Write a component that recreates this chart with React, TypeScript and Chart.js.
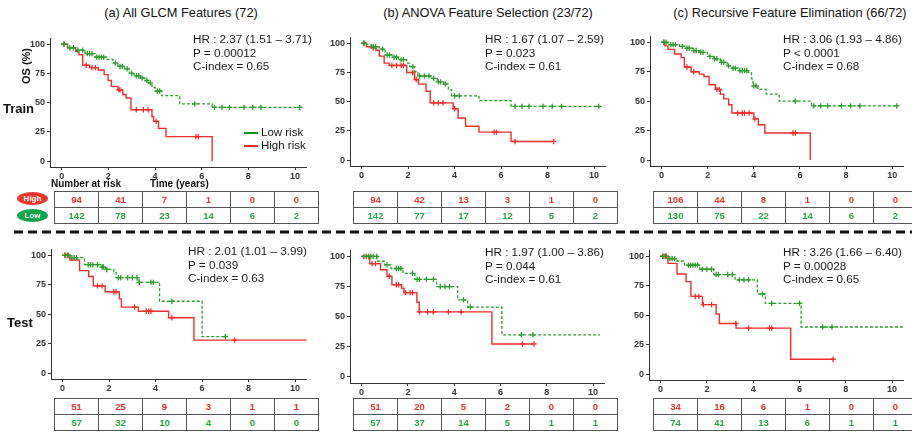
import React, { useEffect, useRef } from 'react';
import { Chart, registerables } from 'chart.js';
Chart.register(...registerables);

// ---------- axis ticks ----------
const X_TICKS = [0, 2, 4, 6, 8, 10];
const Y_TICKS = [0, 25, 50, 75, 100];

// ---------- titles & annotations ----------
const TITLES = [
  '(a) All GLCM Features (72)',
  '(b) ANOVA Feature Selection (23/72)',
  '(c) Recursive Feature Elimination (66/72)',
];
const ANNOT_A_TRAIN = ['HR : 2.37 (1.51 \u2013 3.71)', 'P = 0.00012', 'C-index = 0.65'];
const ANNOT_B_TRAIN = ['HR : 1.67 (1.07 \u2013 2.59)', 'P = 0.023', 'C-index = 0.61'];
const ANNOT_C_TRAIN = ['HR : 3.06 (1.93 \u2013 4.86)', 'P < 0.0001', 'C-index = 0.68'];
const ANNOT_A_TEST = ['HR : 2.01 (1.01 \u2013 3.99)', 'P = 0.039', 'C-index = 0.63'];
const ANNOT_B_TEST = ['HR : 1.97 (1.00 \u2013 3.86)', 'P = 0.044', 'C-index = 0.61'];
const ANNOT_C_TEST = ['HR : 3.26 (1.66 \u2013 6.40)', 'P = 0.00028', 'C-index = 0.65'];

// ---------- number at risk ----------
const RISK_A_TRAIN_HIGH = [94, 41, 7, 1, 0, 0];
const RISK_A_TRAIN_LOW = [142, 78, 23, 14, 6, 2];
const RISK_B_TRAIN_HIGH = [94, 42, 13, 3, 1, 0];
const RISK_B_TRAIN_LOW = [142, 77, 17, 12, 5, 2];
const RISK_C_TRAIN_HIGH = [106, 44, 8, 1, 0, 0];
const RISK_C_TRAIN_LOW = [130, 75, 22, 14, 6, 2];
const RISK_A_TEST_HIGH = [51, 25, 9, 3, 1, 1];
const RISK_A_TEST_LOW = [57, 32, 10, 4, 0, 0];
const RISK_B_TEST_HIGH = [51, 20, 5, 2, 0, 0];
const RISK_B_TEST_LOW = [57, 37, 14, 5, 1, 1];
const RISK_C_TEST_HIGH = [34, 16, 6, 1, 0, 0];
const RISK_C_TEST_LOW = [74, 41, 13, 6, 1, 1];

// ---------- KM curves (time in years, survival %) ----------
// (a) train
const A_TR_LOW_T = [0, 0.25, 0.6, 1.0, 1.43, 1.92, 2.2, 2.41, 2.69, 2.9, 3.1, 3.38, 3.59, 3.73, 3.87, 4.01, 4.29, 5.06, 6.45, 10.2];
const A_TR_LOW_S = [100, 97, 95, 92, 89, 87, 84, 81, 79, 75, 73, 71, 69, 67, 63, 60, 56, 49, 46, 46];
const A_TR_LOW_C = [0.1, 0.35, 0.5, 0.7, 0.9, 1.1, 1.2, 1.3, 1.5, 1.6, 1.7, 1.8, 2.3, 2.5, 2.6, 2.8, 3.0, 3.2, 3.3, 3.45, 3.65, 3.8, 4.1, 4.2, 5.7, 6.55, 6.87, 7.19, 7.81, 8.19, 8.54, 10.2];
const A_TR_HIGH_T = [0, 0.25, 0.6, 0.74, 0.9, 1.2, 1.57, 1.82, 1.99, 2.13, 2.41, 2.62, 2.76, 2.97, 3.87, 3.94, 4.15, 4.47, 6.45];
const A_TR_HIGH_S = [100, 97, 94, 91, 82, 80, 78, 74, 69, 64, 61, 57, 54, 44, 38, 34, 28, 21, 0];
const A_TR_HIGH_C = [0.1, 1.05, 1.3, 1.45, 2.45, 2.5, 3.2, 3.5, 3.7, 4.05, 5.75, 5.85];
// (b) train
const B_TR_LOW_T = [0, 0.21, 0.41, 0.76, 1.01, 1.31, 1.59, 1.94, 2.07, 2.28, 2.42, 2.97, 3.25, 3.53, 3.73, 3.87, 5.05, 6.43, 10.2];
const B_TR_LOW_S = [100, 99, 97, 95, 90, 88, 86, 83, 80, 76, 72, 70, 67, 65, 60, 55, 51, 46, 46];
const B_TR_LOW_C = [0.1, 0.5, 0.6, 0.9, 1.1, 1.2, 1.4, 1.5, 1.7, 1.8, 2.2, 2.5, 2.7, 2.9, 3.1, 3.3, 3.4, 3.6, 4.0, 4.2, 6.6, 6.9, 7.2, 7.8, 8.2, 8.6, 10.2];
const B_TR_HIGH_T = [0, 0.21, 0.41, 0.62, 0.76, 0.97, 1.18, 1.94, 2.28, 2.45, 2.77, 2.95, 3.94, 4.15, 4.47, 5.05, 6.43, 8.26];
const B_TR_HIGH_S = [100, 97, 96, 94, 89, 83, 81, 75, 69, 65, 59, 49, 44, 36, 29, 24, 16, 16];
const B_TR_HIGH_C = [0.1, 0.5, 1.3, 1.5, 1.7, 1.8, 2.2, 2.35, 3.1, 3.3, 3.5, 4.0, 5.7, 5.8, 6.6, 8.26];
// (c) train
const C_TR_LOW_T = [0, 0.28, 0.78, 1.06, 1.35, 1.63, 1.99, 2.27, 2.55, 2.84, 3.05, 3.33, 3.76, 3.9, 3.97, 4.18, 4.54, 5.1, 6.5, 10.2];
const C_TR_LOW_S = [100, 98, 96.5, 95, 93, 91.5, 88, 86, 83, 80, 78, 76, 74.5, 69, 63, 60, 56, 50, 46, 46];
const C_TR_LOW_C = [0.1, 0.2, 0.4, 0.5, 0.6, 0.9, 1.1, 1.2, 1.4, 1.5, 1.7, 1.8, 2.1, 2.3, 2.4, 2.6, 2.7, 2.9, 3.1, 3.2, 3.4, 3.5, 3.6, 3.7, 4.0, 4.1, 5.8, 6.6, 6.9, 7.2, 7.8, 8.2, 8.6, 10.2];
const C_TR_HIGH_T = [0, 0.14, 0.28, 0.57, 0.85, 0.99, 1.28, 1.63, 1.84, 2.06, 2.34, 2.55, 2.7, 2.91, 3.05, 4.0, 4.2, 4.48, 6.45];
const C_TR_HIGH_S = [100, 97, 94, 90, 87, 79, 75, 73, 71, 64, 60, 56, 52, 47, 40, 35, 30, 23, 0];
const C_TR_HIGH_C = [0.1, 1.1, 1.4, 2.4, 2.5, 3.3, 3.5, 3.6, 3.8, 4.05, 5.7, 5.8];
// (a) test
const A_TE_LOW_T = [0, 0.35, 0.94, 1.64, 1.85, 2.2, 2.3, 3.29, 4.17, 6.0, 7.0];
const A_TE_LOW_S = [100, 98, 92, 90, 88, 86, 81, 77, 61, 31, 31];
const A_TE_LOW_C = [0.1, 0.25, 0.4, 0.5, 0.6, 1.1, 1.2, 1.3, 1.5, 1.7, 1.75, 1.9, 2.4, 2.5, 2.8, 3.0, 3.2, 3.3, 3.8, 3.9, 4.7, 7.0];
const A_TE_HIGH_T = [0, 0.31, 0.73, 1.12, 1.32, 1.83, 2.44, 2.53, 3.26, 4.56, 5.65, 10.5];
const A_TE_HIGH_S = [100, 96, 87, 82, 74, 69, 63, 56, 52.5, 47, 28, 28];
const A_TE_HIGH_C = [0.1, 0.2, 1.5, 1.7, 2.2, 2.3, 3.1, 3.6, 3.7, 3.8, 4.7, 7.4];
// (b) test
const B_TE_LOW_T = [0, 0.7, 0.99, 1.27, 1.79, 2.3, 3.24, 4.15, 4.58, 6.06, 10.3];
const B_TE_LOW_S = [100, 96, 93, 90, 86, 81, 75, 64, 58, 35, 35];
const B_TE_LOW_C = [0.2, 0.3, 0.4, 0.5, 0.65, 1.1, 1.5, 1.6, 1.7, 2.2, 2.4, 2.5, 2.8, 3.1, 3.4, 3.6, 3.8, 4.4, 4.7, 6.9, 7.4];
const B_TE_HIGH_T = [0, 0.35, 0.82, 1.1, 1.31, 1.73, 1.83, 2.39, 2.49, 5.63, 7.45];
const B_TE_HIGH_S = [100, 94, 89, 83.5, 76.5, 73.6, 70, 62, 54, 27.4, 27.4];
const B_TE_HIGH_C = [0.1, 0.3, 0.45, 0.6, 1.2, 1.5, 1.6, 1.9, 2.1, 2.2, 2.5, 2.85, 3.1, 3.75, 4.3, 6.95, 7.45];
// (c) test
const C_TE_LOW_T = [0, 0.32, 0.71, 1.03, 1.69, 2.3, 3.22, 4.18, 4.53, 6.07, 10.5];
const C_TE_LOW_S = [100, 98, 96, 92.5, 89, 84.5, 80, 68, 60, 40, 40];
const C_TE_LOW_C = [0.1, 0.2, 0.4, 0.5, 0.6, 1.2, 1.3, 1.4, 1.5, 1.6, 1.8, 2.0, 2.2, 2.4, 2.5, 2.9, 3.1, 3.4, 3.6, 3.8, 4.4, 4.8, 6.0, 7.0, 7.4];
const C_TE_HIGH_T = [0, 0.32, 0.71, 1.1, 1.31, 1.81, 2.4, 2.54, 3.26, 5.62, 7.45];
const C_TE_HIGH_S = [100, 94, 85, 78.5, 66, 59, 51, 43, 39, 12.6, 12.6];
const C_TE_HIGH_C = [0.1, 0.2, 0.25, 1.5, 1.65, 1.85, 2.2, 3.25, 3.8, 4.7, 4.8, 7.45];

// ---------- styles ----------
const FONT = "'Liberation Sans', Arial, Helvetica, sans-serif";
const GREEN = '#2a9d2a';
const RED = '#ec2f2a';
const GREEN_TXT = '#22a844';
const RED_TXT = '#e8342c';
const AXIS = '#333333';
const YW = 30;
const XH = 18;

function survAt(t: number, T: number[], S: number[]) {
  let v = S[0];
  for (let i = 0; i < T.length; i++) if (T[i] <= t) v = S[i];
  return v;
}

type Area = { left: number; right: number; top: number; bottom: number };

function KMPanel(props: {
  area: Area;
  lowT: number[]; lowS: number[]; lowC: number[];
  highT: number[]; highS: number[]; highC: number[];
}) {
  const ref = useRef<HTMLCanvasElement | null>(null);
  const { area } = props;
  const w = area.right - area.left + YW;
  const h = area.bottom - area.top + XH;
  useEffect(() => {
    const { lowT, lowS, lowC, highT, highS, highC } = props;
    const lowLine = lowT.map((t, i) => ({ x: t, y: lowS[i] }));
    const highLine = highT.map((t, i) => ({ x: t, y: highS[i] }));
    const lowCens = lowC.map((t) => ({ x: t, y: survAt(t, lowT, lowS) }));
    const highCens = highC.map((t) => ({ x: t, y: survAt(t, highT, highS) }));
    const tickFont = { family: FONT, size: 9, weight: 'bold' as const };
    const chart = new Chart(ref.current as HTMLCanvasElement, {
      type: 'line',
      data: {
        datasets: [
          { data: lowLine, borderColor: GREEN, borderWidth: 1.3, borderDash: [3, 2], stepped: true, pointRadius: 0, fill: false },
          { data: lowCens, showLine: false, pointStyle: 'cross', pointRadius: 2.7, borderColor: GREEN, backgroundColor: GREEN, borderWidth: 1.3 },
          { data: highLine, borderColor: RED, borderWidth: 1.4, stepped: true, pointRadius: 0, fill: false },
          { data: highCens, showLine: false, pointStyle: 'cross', pointRadius: 2.7, borderColor: RED, backgroundColor: RED, borderWidth: 1.3 },
        ],
      } as any,
      options: {
        animation: false,
        responsive: false,
        events: [],
        layout: { padding: 0 },
        plugins: { legend: { display: false }, tooltip: { enabled: false } },
        scales: {
          x: {
            type: 'linear',
            min: -0.5,
            max: 10.5,
            afterBuildTicks: (s: any) => { s.ticks = X_TICKS.map((v) => ({ value: v })); },
            afterFit: (s: any) => { s.height = XH; },
            grid: { display: true, drawOnChartArea: false, drawTicks: true, tickLength: 3, color: AXIS, lineWidth: 1 },
            border: { display: true, color: AXIS, width: 1 },
            ticks: { font: tickFont, color: AXIS, padding: 1, maxRotation: 0, autoSkip: false },
          },
          y: {
            type: 'linear',
            min: -5,
            max: 105,
            afterBuildTicks: (s: any) => { s.ticks = Y_TICKS.map((v) => ({ value: v })); },
            afterFit: (s: any) => { s.width = YW; },
            grid: { display: true, drawOnChartArea: false, drawTicks: true, tickLength: 3, color: AXIS, lineWidth: 1 },
            border: { display: true, color: AXIS, width: 1 },
            ticks: { font: tickFont, color: AXIS, padding: 2, autoSkip: false },
          },
        },
      } as any,
    });
    return () => chart.destroy();
  }, []);
  return (
    <canvas
      ref={ref}
      width={w}
      height={h}
      style={{ position: 'absolute', left: area.left - YW, top: area.top, width: w, height: h }}
    />
  );
}

function Txt(props: { x: number; y: number; children: any; size: number; bold?: boolean; center?: boolean; color?: string; rotate?: boolean }) {
  const { x, y, size, bold, center, color, rotate } = props;
  let transform = center ? 'translate(-50%, -50%)' : 'translate(0, -50%)';
  if (rotate) transform = 'translate(-50%, -50%) rotate(-90deg)';
  return (
    <div
      style={{
        position: 'absolute', left: x, top: y, transform, whiteSpace: 'nowrap',
        fontFamily: FONT, fontSize: size, fontWeight: bold ? 700 : 400,
        color: color || '#111', lineHeight: 1,
      }}
    >
      {props.children}
    </div>
  );
}

function Annot(props: { x: number; y: number; lines: string[] }) {
  return (
    <>
      {props.lines.map((l, i) => (
        <Txt key={i} x={props.x} y={props.y + i * 13.5} size={11.7} color="#1a1a1a">{l}</Txt>
      ))}
    </>
  );
}

function RiskTable(props: { left: number; top: number; high: number[]; low: number[] }) {
  const cell = (v: number, color: string, k: number) => (
    <td key={k} style={{ border: '1px solid #555', height: 15, padding: 0, textAlign: 'center', color, fontWeight: 700, fontSize: 9.5, fontFamily: FONT, width: 43 }}>{v}</td>
  );
  return (
    <table style={{ position: 'absolute', left: props.left, top: props.top, width: 259, borderCollapse: 'collapse', tableLayout: 'fixed' }}>
      <tbody>
        <tr>{props.high.map((v, i) => cell(v, RED_TXT, i))}</tr>
        <tr>{props.low.map((v, i) => cell(v, GREEN_TXT, i))}</tr>
      </tbody>
    </table>
  );
}

function Pill(props: { top: number; color: string; label: string }) {
  return (
    <div style={{ position: 'absolute', left: 17, top: props.top, width: 31, height: 13, borderRadius: '50%', background: props.color, color: '#fff', fontFamily: FONT, fontSize: 8, fontWeight: 700, textAlign: 'center', lineHeight: '13px' }}>
      {props.label}
    </div>
  );
}

export default function App() {
  return (
    <div style={{ position: 'absolute', left: 0, top: 0, width: 912, height: 433, overflow: 'hidden', background: '#fff' }}>
      <Txt x={181} y={13} size={12.8} center>{TITLES[0]}</Txt>
      <Txt x={488} y={13} size={12.8} center>{TITLES[1]}</Txt>
      <Txt x={790} y={13} size={12.8} center>{TITLES[2]}</Txt>

      <KMPanel area={{ left: 50, right: 312, top: 31, bottom: 167 }} lowT={A_TR_LOW_T} lowS={A_TR_LOW_S} lowC={A_TR_LOW_C} highT={A_TR_HIGH_T} highS={A_TR_HIGH_S} highC={A_TR_HIGH_C} />
      <KMPanel area={{ left: 350, right: 611, top: 30, bottom: 166 }} lowT={B_TR_LOW_T} lowS={B_TR_LOW_S} lowC={B_TR_LOW_C} highT={B_TR_HIGH_T} highS={B_TR_HIGH_S} highC={B_TR_HIGH_C} />
      <KMPanel area={{ left: 650, right: 909, top: 29, bottom: 166 }} lowT={C_TR_LOW_T} lowS={C_TR_LOW_S} lowC={C_TR_LOW_C} highT={C_TR_HIGH_T} highS={C_TR_HIGH_S} highC={C_TR_HIGH_C} />
      <KMPanel area={{ left: 51, right: 312, top: 242, bottom: 379 }} lowT={A_TE_LOW_T} lowS={A_TE_LOW_S} lowC={A_TE_LOW_C} highT={A_TE_HIGH_T} highS={A_TE_HIGH_S} highC={A_TE_HIGH_C} />
      <KMPanel area={{ left: 350, right: 610, top: 243, bottom: 383 }} lowT={B_TE_LOW_T} lowS={B_TE_LOW_S} lowC={B_TE_LOW_C} highT={B_TE_HIGH_T} highS={B_TE_HIGH_S} highC={B_TE_HIGH_C} />
      <KMPanel area={{ left: 649, right: 909, top: 243, bottom: 380 }} lowT={C_TE_LOW_T} lowS={C_TE_LOW_S} lowC={C_TE_LOW_C} highT={C_TE_HIGH_T} highS={C_TE_HIGH_S} highC={C_TE_HIGH_C} />

      <Annot x={193} y={39} lines={ANNOT_A_TRAIN} />
      <Annot x={485} y={39} lines={ANNOT_B_TRAIN} />
      <Annot x={783} y={39} lines={ANNOT_C_TRAIN} />
      <Annot x={188} y={251} lines={ANNOT_A_TEST} />
      <Annot x={485} y={252} lines={ANNOT_B_TEST} />
      <Annot x={783} y={252} lines={ANNOT_C_TEST} />

      <Txt x={26} y={66} size={11} bold rotate>OS (%)</Txt>
      <Txt x={3} y={108} size={13} bold>Train</Txt>
      <Txt x={7} y={322} size={13} bold>Test</Txt>

      {/* legend */}
      <div style={{ position: 'absolute', left: 244, top: 132, width: 14, height: 2, background: '#129212' }} />
      <Txt x={261} y={133} size={11.5}>Low risk</Txt>
      <div style={{ position: 'absolute', left: 244, top: 145, width: 14, height: 2, background: RED }} />
      <Txt x={261} y={146} size={11.5}>High risk</Txt>

      <Txt x={51} y={184} size={10} bold>Number at risk</Txt>
      <Txt x={150} y={184} size={10} bold>Time (years)</Txt>

      <Pill top={192} color="#e8392c" label="High" />
      <Pill top={209} color="#12a54a" label="Low" />

      <RiskTable left={54} top={191} high={RISK_A_TRAIN_HIGH} low={RISK_A_TRAIN_LOW} />
      <RiskTable left={353} top={191} high={RISK_B_TRAIN_HIGH} low={RISK_B_TRAIN_LOW} />
      <RiskTable left={653} top={191} high={RISK_C_TRAIN_HIGH} low={RISK_C_TRAIN_LOW} />
      <RiskTable left={54} top={398} high={RISK_A_TEST_HIGH} low={RISK_A_TEST_LOW} />
      <RiskTable left={353} top={398} high={RISK_B_TEST_HIGH} low={RISK_B_TEST_LOW} />
      <RiskTable left={653} top={398} high={RISK_C_TEST_HIGH} low={RISK_C_TEST_LOW} />

      <svg style={{ position: 'absolute', left: 0, top: 0 }} width={912} height={433}>
        <line x1={14} y1={232} x2={912} y2={232} stroke="#111" strokeWidth={3} strokeDasharray="9 5" />
      </svg>
    </div>
  );
}
